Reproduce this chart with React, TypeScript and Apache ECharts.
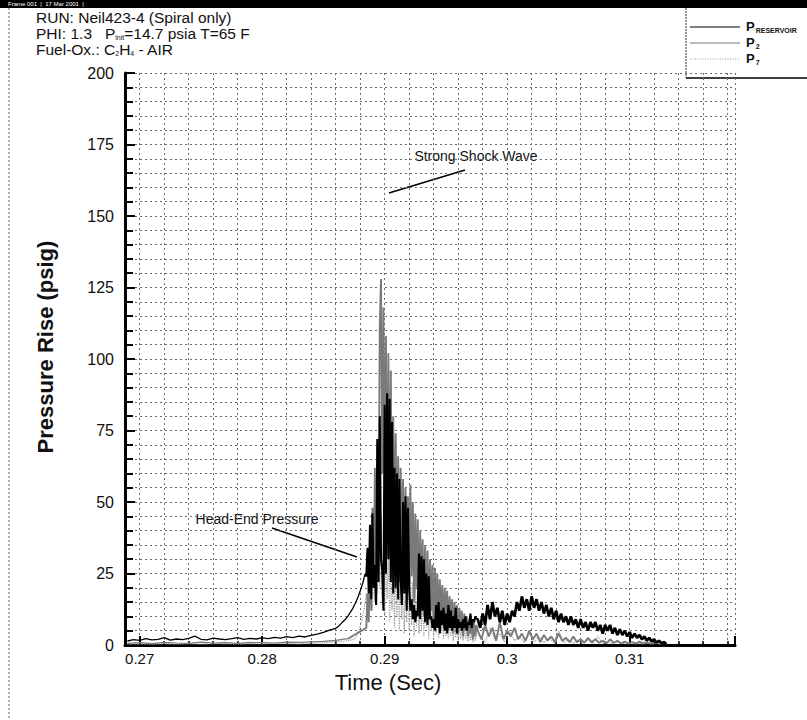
import React, { useEffect, useRef } from "react";
import * as echarts from "echarts";

// ---------- axis settings ----------
const X_MIN = 0.2688;
const X_MAX = 0.3186;
const Y_MIN = 0;
const Y_MAX = 200;
const xTickLabels = [0.27, 0.28, 0.29, 0.3, 0.31];
const yTickLabels = [0, 25, 50, 75, 100, 125, 150, 175, 200];

// ---------- P_RESERVOIR (black) ----------
const resQuietStart = 0.269, resQuietStep = 0.0005;
const resQuiet = [1.4, 1.9, 1.6, 2.2, 1.8, 2.0, 2.6, 1.7, 2.1, 1.9, 2.3, 3.1, 2.0, 1.8, 2.4, 2.1, 1.9, 2.2, 2.6, 2.0, 2.3, 2.1, 2.5, 2.2, 2.7, 2.4, 2.9, 2.6, 3.1, 2.8, 3.4, 3.8, 4.4, 5.2];
const resRiseStart = 0.286, resRiseStep = 0.0002;
const resRise = [5.8, 6.5, 7.3, 8.2, 9.0, 10.1, 11.5, 12.8, 14.6, 16.5, 18.9, 21.5, 24.8];
const resBurstStart = 0.2885, resBurstStep = 0.0001;
const resBurst = [24, 34, 18, 42, 16, 46, 20, 28, 14, 72, 22, 80, 30, 26, 12, 84, 25, 88, 30, 86, 22, 78, 18, 62, 20, 60, 16, 58, 24, 14, 50, 18, 52, 12, 48, 20, 12, 16, 9, 14, 8, 12, 10, 32, 9, 31, 12, 30, 8, 25, 7, 24, 9, 10, 6, 9, 5, 14, 6, 15, 4, 12, 7, 13, 5, 11, 4, 14, 6, 12, 5, 10, 6, 13, 4, 9, 6, 8, 5, 9, 6, 10, 5, 8, 7, 11, 6, 9, 8, 10, 9];
const resTailStart = 0.2976, resTailStep = 0.0002;
const resTail = [9, 6, 11, 7, 14, 9, 15, 10, 13, 8, 12, 7, 11, 8, 12, 10, 15, 12, 17, 13, 16, 12, 17, 13, 16, 12, 15, 11, 14, 10, 13, 9, 12, 8, 11, 8, 10, 7, 10, 7, 9, 6, 9, 6, 8, 5, 8, 6, 8, 5, 7, 4, 7, 5, 7, 4, 6, 3.5, 5.5, 3.5, 5, 3, 4.5, 2.5, 4, 2.5, 3.5, 2, 3, 1.5, 2.5, 1.2, 2, 0.8, 1.5, 0.6, 1, 0.4];

// ---------- P_2 (grey) ----------
const p2QuietStart = 0.269, p2QuietStep = 0.001;
const p2Quiet = [0.6, 0.8, 0.5, 0.9, 0.7, 0.6, 1.0, 0.7, 0.8, 0.6, 0.9, 0.8, 0.7, 1.0, 0.9, 1.1, 1.3, 1.6, 2.2];
const p2BurstStart = 0.2885, p2BurstStep = 0.0001;
const p2Burst = [6, 18, 8, 30, 12, 48, 20, 62, 25, 70, 40, 112, 128, 60, 118, 45, 108, 38, 102, 42, 96, 30, 80, 35, 74, 28, 66, 22, 62, 30, 58, 20, 55, 26, 52, 18, 56, 24, 50, 15, 46, 20, 44, 12, 40, 17, 37, 10, 35, 14, 33, 9, 30, 12, 28, 8, 27, 11, 25, 7, 23, 10, 21, 6, 20, 9, 19, 5, 17, 8, 16, 4, 15, 7, 14, 4, 13, 6, 12, 3, 11, 5, 10, 3, 9, 4, 9, 2, 8, 3, 7];
const p2TailStart = 0.2976, p2TailStep = 0.0003;
const p2Tail = [5, 2, 7, 3, 6, 1.5, 8, 2, 5, 3, 6, 2, 4, 1.5, 5, 2, 4, 1, 3.5, 1.5, 3, 1, 4, 1.5, 2.5, 1, 3, 1, 2, 0.8, 2.5, 1, 2, 0.8, 1.5, 0.6, 2, 0.8, 1.5, 0.6, 1.2, 0.5, 1, 0.5, 1.2, 0.5, 0.8, 0.5, 0.6];

// ---------- P_7 (light dotted) ----------
const p7QuietStart = 0.269, p7QuietStep = 0.001;
const p7Quiet = [0.3, 0.4, 0.2, 0.5, 0.3, 0.4, 0.3, 0.5, 0.4, 0.3, 0.5, 0.4, 0.6, 0.5, 0.4, 0.6, 0.8, 1.0, 1.5];
const p7BurstStart = 0.2875, p7BurstStep = 0.0001;
const p7Burst = [2, 2.5, 3, 4, 5, 6.5, 8, 10, 12, 15, 18, 14, 22, 16, 26, 12, 30, 15, 36, 18, 42, 20, 45, 14, 40, 10, 38, 16, 35, 8, 33, 12, 30, 6, 32, 10, 28, 5, 30, 9, 26, 4, 27, 8, 24, 5, 25, 7, 22, 3, 23, 6, 20, 4, 21, 5, 18, 3, 19, 6, 17, 2, 16, 5, 15, 3, 14, 4, 13, 2, 12, 4, 11, 2, 10, 3, 9, 2, 9, 3, 8, 1.5, 8, 2.5, 7, 1.5, 7, 2, 6, 1.5, 6, 2, 5, 1.2, 5, 1.5, 4.5, 1, 4, 1.5, 4];
const p7TailStart = 0.2978, p7TailStep = 0.0004;
const p7Tail = [3, 1, 6, 2, 4, 1, 5, 1.5, 3, 0.8, 4, 1, 3, 0.8, 2.5, 1, 5, 0.8, 2, 0.6, 1.8, 0.6, 1.5, 0.5, 3, 0.5, 1.2, 0.5, 1, 0.4, 1, 0.4, 0.8, 0.4, 2.5, 0.4, 0.6, 0.3];

// ---------- legend ----------
const legendNames = ["RESERVOIR", "2", "7"];
const legendColors = ["#000000", "#7a7a7a", "#9a9a9a"];

function seg(start: number, step: number, values: number[]): [number, number][] {
  return values.map((v, i) => [+(start + i * step).toFixed(5), v]);
}

const FONT = "'Liberation Sans', Arial, sans-serif";

export default function App() {
  const ref = useRef<HTMLDivElement>(null);
  useEffect(() => {
    if (!ref.current) return;
    const chart = echarts.init(ref.current, null, { renderer: "svg" });

    const resEarly = [
      ...seg(resQuietStart, resQuietStep, resQuiet),
      ...seg(resRiseStart, resRiseStep, resRise),
    ];
    const resMid = [resEarly[resEarly.length - 1], ...seg(resBurstStart, resBurstStep, resBurst)];
    const resLate = [resMid[resMid.length - 1], ...seg(resTailStart, resTailStep, resTail)];
    const p2Early = seg(p2QuietStart, p2QuietStep, p2Quiet);
    const p2Late = [
      p2Early[p2Early.length - 1],
      ...seg(p2BurstStart, p2BurstStep, p2Burst),
      ...seg(p2TailStart, p2TailStep, p2Tail),
    ];
    const p7Data = [
      ...seg(p7QuietStart, p7QuietStep, p7Quiet),
      ...seg(p7BurstStart, p7BurstStep, p7Burst),
      ...seg(p7TailStart, p7TailStep, p7Tail),
    ];

    const gridLine = { show: true, lineStyle: { color: "#6a6a6a", width: 1, type: [2, 3] as any } };
    const legendY = [27, 43, 59];

    const legendGraphics: any[] = [];
    legendNames.forEach((n, i) => {
      legendGraphics.push({
        type: "line",
        shape: { x1: 690, y1: legendY[i], x2: 740, y2: legendY[i] },
        style: { stroke: legendColors[i], lineWidth: i === 2 ? 1 : 1.2, lineDash: i === 2 ? [1, 1.5] : null },
      });
      legendGraphics.push({
        type: "text",
        x: 746,
        y: legendY[i] - 8,
        style: {
          text: `{p|P}{s|${n}}`,
          rich: {
            p: { fill: "#111", fontSize: 13, fontWeight: "bold", fontFamily: FONT },
            s: { fill: "#111", fontSize: 7, fontWeight: "bold", fontFamily: FONT, padding: [8, 0, 0, 1] },
          },
        },
      });
    });

    const lineCommon = { type: "line", symbol: "none", silent: true };

    chart.setOption({
      animation: false,
      backgroundColor: "#ffffff",
      textStyle: { fontFamily: FONT },
      grid: { left: 125, right: 72, top: 73, bottom: 75, containLabel: false },
      xAxis: {
        type: "value",
        min: X_MIN,
        max: X_MAX,
        splitNumber: 5,
        minInterval: 0.01,
        maxInterval: 0.01,
        axisLine: { show: true, onZero: false, lineStyle: { color: "#000", width: 3 } },
        axisTick: { show: true, inside: true, length: 9, lineStyle: { color: "#000", width: 2 } },
        minorTick: { show: true, splitNumber: 5, length: 4, lineStyle: { color: "#000", width: 1.5 } },
        splitLine: gridLine,
        minorSplitLine: gridLine,
        axisLabel: {
          show: true,
          showMinLabel: false,
          showMaxLabel: false,
          margin: 6,
          color: "#111",
          fontSize: 15,
          fontFamily: FONT,
          formatter: (v: number) => {
            const hit = xTickLabels.find((t) => Math.abs(t - v) < 1e-6);
            return hit === undefined ? "" : String(hit);
          },
        },
      },
      yAxis: {
        type: "value",
        min: Y_MIN,
        max: Y_MAX,
        interval: 25,
        axisLine: { show: true, lineStyle: { color: "#000", width: 3 } },
        axisTick: { show: true, inside: true, length: 10, lineStyle: { color: "#000", width: 2 } },
        minorTick: { show: true, splitNumber: 5, length: 8, lineStyle: { color: "#000", width: 2 } },
        splitLine: gridLine,
        minorSplitLine: gridLine,
        axisLabel: {
          margin: 11,
          color: "#111",
          fontSize: 16,
          fontFamily: FONT,
          formatter: (v: number) => (yTickLabels.includes(v) ? String(v) : ""),
        },
      },
      series: [
        { ...lineCommon, name: "P_7", data: p7Data, z: 2, lineStyle: { color: legendColors[2], width: 1.2, type: "dotted" } },
        { ...lineCommon, name: "P_2", data: p2Early, z: 3, lineStyle: { color: legendColors[1], width: 1.2 } },
        { ...lineCommon, name: "P_2", data: p2Late, z: 3, lineStyle: { color: legendColors[1], width: 1.9 } },
        { ...lineCommon, name: "P_RESERVOIR", data: resEarly, z: 4, lineStyle: { color: legendColors[0], width: 1.3 } },
        { ...lineCommon, name: "P_RESERVOIR", data: resMid, z: 4, lineStyle: { color: legendColors[0], width: 2.1 } },
        { ...lineCommon, name: "P_RESERVOIR", data: resLate, z: 4, lineStyle: { color: legendColors[0], width: 2.7 } },
      ],
      graphic: [
        { type: "rect", shape: { x: 0, y: 0, width: 807, height: 8 }, style: { fill: "#000" } },
        { type: "text", x: 8, y: 1, style: { text: "Frame 001  |  17 Mar 2001  |", fill: "#fff", fontSize: 6, fontFamily: FONT } },
        { type: "line", shape: { x1: 9, y1: 8, x2: 9, y2: 720 }, style: { stroke: "#666", lineWidth: 1, lineDash: [2, 2] } },
        {
          type: "text", x: 36, y: 9,
          style: { text: "RUN: Neil423-4 (Spiral only)", fill: "#111", fontSize: 15.5, fontFamily: FONT },
        },
        {
          type: "text", x: 36, y: 25,
          style: {
            text: "{a|PHI: 1.3   P}{s|init}{a|=14.7 psia T=65 F}",
            rich: {
              a: { fill: "#111", fontSize: 15.5, fontFamily: FONT },
              s: { fill: "#111", fontSize: 7, fontFamily: FONT, padding: [9, 0, 0, 0] },
            },
          },
        },
        {
          type: "text", x: 36, y: 41,
          style: {
            text: "{a|Fuel-Ox.: C}{s|2}{a|H}{s|4}{a| - AIR}",
            rich: {
              a: { fill: "#111", fontSize: 15.5, fontFamily: FONT },
              s: { fill: "#111", fontSize: 7, fontFamily: FONT, padding: [9, 0, 0, 0] },
            },
          },
        },
        { type: "line", shape: { x1: 686, y1: 8, x2: 686, y2: 78 }, style: { stroke: "#333", lineWidth: 1, lineDash: [2, 1] } },
        { type: "line", shape: { x1: 686, y1: 78, x2: 807, y2: 78 }, style: { stroke: "#000", lineWidth: 1.5 } },
        ...legendGraphics,
        {
          type: "text", x: 45, y: 347, rotation: Math.PI / 2,
          style: { text: "Pressure Rise (psig)", fill: "#111", fontSize: 22, fontWeight: "bold", fontFamily: FONT, align: "center", verticalAlign: "middle" },
        },
        {
          type: "text", x: 388, y: 682,
          style: { text: "Time (Sec)", fill: "#111", fontSize: 22, fontFamily: FONT, align: "center", verticalAlign: "middle" },
        },
        {
          type: "text", x: 476, y: 156,
          style: { text: "Strong Shock Wave", fill: "#111", fontSize: 14, fontFamily: FONT, align: "center", verticalAlign: "middle" },
        },
        { type: "line", shape: { x1: 465, y1: 170, x2: 389, y2: 193 }, style: { stroke: "#000", lineWidth: 1.5 } },
        {
          type: "text", x: 257, y: 519,
          style: { text: "Head-End Pressure", fill: "#111", fontSize: 14, fontFamily: FONT, align: "center", verticalAlign: "middle" },
        },
        { type: "line", shape: { x1: 272, y1: 528, x2: 357, y2: 557 }, style: { stroke: "#000", lineWidth: 1.5 } },
      ],
    });

    return () => chart.dispose();
  }, []);

  return (
    <div
      ref={ref}
      style={{ position: "absolute", left: 0, top: 0, width: 807, height: 720, background: "#fff" }}
    />
  );
}
